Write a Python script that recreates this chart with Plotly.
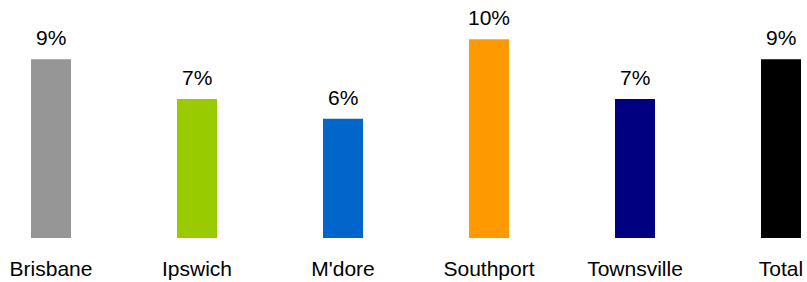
import plotly.graph_objects as go

categories = ["Brisbane", "Ipswich", "M'dore", "Southport", "Townsville", "Total"]
values = [9, 7, 6, 10, 7, 9]
labels = ["9%", "7%", "6%", "10%", "7%", "9%"]
colors = ["#969696", "#99CC00", "#0066CC", "#FF9900", "#000080", "#000000"]

FONT = "Liberation Sans, Arial, sans-serif"

fig = go.Figure()
fig.add_trace(go.Bar(
    x=categories, y=values, marker=dict(color=colors, line=dict(width=0)),
    width=40 / 146, hoverinfo="skip",
))
for c, v, t in zip(categories, values, labels):
    fig.add_annotation(x=c, y=v, text=t, showarrow=False, yanchor="bottom",
                       yshift=8, font=dict(family=FONT, size=21, color="#000000"))

fig.update_layout(
    width=807, height=282,
    margin=dict(l=0, r=0, t=0, b=44),
    paper_bgcolor="white", plot_bgcolor="white",
    showlegend=False,
    font=dict(family=FONT, size=21, color="#000000"),
    xaxis=dict(range=[-51 / 146, (807 - 51) / 146], showgrid=False, zeroline=False,
               showline=False, ticks="outside", ticklen=12, tickcolor="white",
               automargin=False,
               tickfont=dict(family=FONT, size=21, color="#000000")),
    yaxis=dict(range=[0, 238 / 19.87], visible=False),
)

fig.write_html("out.html", config={"displayModeBar": False},
               post_script="document.body.style.margin='0';document.body.style.overflow='hidden';")
